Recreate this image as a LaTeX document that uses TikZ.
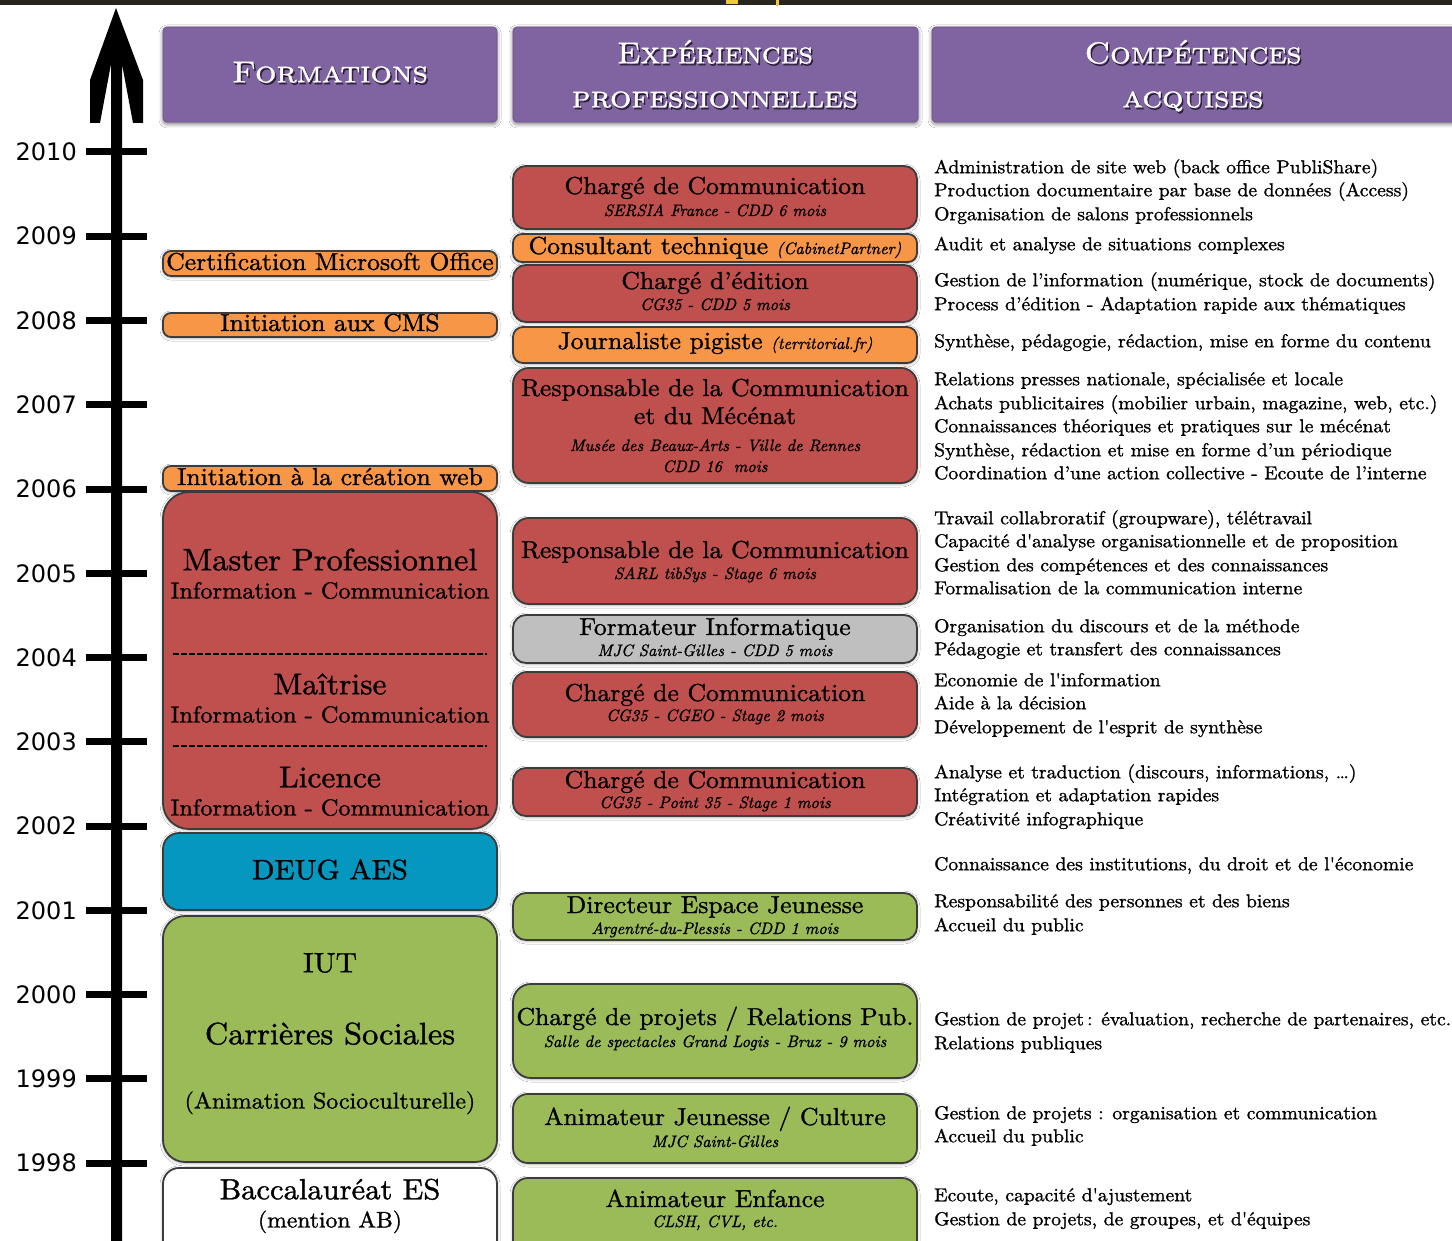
\documentclass[tikz,border=0pt]{standalone}
\usepackage{fontspec}
\usepackage{graphicx}
\setmainfont{lmroman10-regular.otf}[ItalicFont=lmroman10-italic.otf,BoldFont=lmroman10-bold.otf,SmallCapsFont=lmromancaps10-regular.otf,FakeStretch=1.05,FakeBold=1.2]
\newfontfamily\subit{lmroman10-italic.otf}[FakeBold=1.2]
\newfontfamily\yearfont{DejaVu Sans}
\usetikzlibrary{shadows,shadows.blur}
\definecolor{hdrpurple}{RGB}{128,100,162}
\definecolor{boxred}{RGB}{192,80,77}
\definecolor{boxorange}{RGB}{247,150,70}
\definecolor{boxgreen}{RGB}{155,187,89}
\definecolor{boxblue}{RGB}{6,151,192}
\definecolor{boxgray}{RGB}{191,191,191}
\definecolor{edge}{RGB}{60,60,60}
\definecolor{topband}{RGB}{40,36,30}
\definecolor{bandyellow}{RGB}{240,200,60}
\newcommand\hdrtxt[2]{\resizebox{#1pt}{\height}{\fontsize{30}{34}\selectfont #2}}
\newcommand\sq{\textquotesingle}
\newcommand\cardbox[7]{\node[card,fill=#2,rounded corners=#7pt,minimum width={#5-#3},minimum height={#6-#4}] (#1) at ({(#3+#5)/2},{(#4+#6)/2}) {};}
\begin{document}
\begin{tikzpicture}[x=1pt,y=-1pt,
 card/.style={draw=edge,line width=1.8pt,inner sep=0pt,blur shadow={shadow xshift=0pt,shadow yshift=-1pt,shadow blur radius=3pt,shadow opacity=35}},
 hdrbox/.style={fill=hdrpurple,draw=hdrpurple!85!black,line width=0.8pt,rounded corners=4pt,inner sep=0pt,blur shadow={shadow xshift=0pt,shadow yshift=-2pt,shadow blur radius=4pt,shadow opacity=55}},
 hdrw/.style={text=white,inner sep=0pt,text height=20.5pt,text depth=0pt},
 hdrs/.style={text=black,text opacity=0.6,inner sep=0pt,text height=20.5pt,text depth=0pt},
 ttl/.style={font=\fontsize{24.5}{28}\selectfont,inner sep=0pt,text height=17pt,text depth=5pt},
 sbt/.style={font=\subit\fontsize{16.5}{19}\selectfont,inner sep=0pt,text height=11.5pt,text depth=3.5pt},
 bigt/.style={font=\fontsize{30.9}{35}\selectfont,inner sep=0pt,text height=21pt,text depth=6.5pt},
 med/.style={font=\fontsize{23.2}{27}\selectfont,inner sep=0pt,text height=16pt,text depth=5pt},
 comp/.style={font=\fontsize{18.7}{22}\selectfont,anchor=west,inner sep=0pt,text height=13pt,text depth=4.5pt},
 yr/.style={font=\yearfont\fontsize{24}{28}\selectfont,anchor=east,inner sep=0pt,text height=17.5pt,text depth=0pt},
 dashsep/.style={line width=1.4pt,dash pattern=on 5.5pt off 2.5pt}
]
\useasboundingbox (0,0) rectangle (1452,1241);
\fill[white] (0,0) rectangle (1452,1241);
% top band
\fill[topband] (0,0) rectangle (1452,5);
\fill[bandyellow] (726,0) rectangle (738,4);
\fill[bandyellow] (776,0) rectangle (779,6);

% time axis
\fill (116,8) -- (143,80) -- (143,123) -- (133,123) -- (122,64) -- (122,1260) -- (111,1260) -- (111,64) -- (100,123) -- (90,123) -- (90,80) -- cycle;
\foreach \yr in {1998,...,2010}{
  \pgfmathsetmacro\yy{152+(2010-\yr)*84.25}
  \fill (86,\yy-3.5) rectangle (147,\yy+3.5);
  \node[yr] (yr\yr) at (77,\yy) {\yr};
}

% headers
\node[hdrbox,minimum width=334pt,minimum height=95pt] (hf) at (330,74.5) {};
\node[hdrbox,minimum width=405pt,minimum height=95pt] (he) at (715.5,74.5) {};
\node[hdrbox,minimum width=530pt,minimum height=95pt] (hc) at (1197,74.5) {};
\node[hdrs] (hfs) at (331.5,74) {\hdrtxt{196}{\textsc{Formations}}};
\node[hdrw] (hft) at (330,72) {\hdrtxt{196}{\textsc{Formations}}};
\node[hdrs] (he1s) at (716.5,55) {\hdrtxt{196}{\textsc{Expériences}}};
\node[hdrw] (he1) at (715,53) {\hdrtxt{196}{\textsc{Expériences}}};
\node[hdrs] (he2s) at (716.5,99) {\hdrtxt{286}{\textsc{professionnelles}}};
\node[hdrw] (he2) at (715,97) {\hdrtxt{286}{\textsc{professionnelles}}};
\node[hdrs] (hc1s) at (1194.5,55) {\hdrtxt{217}{\textsc{Compétences}}};
\node[hdrw] (hc1) at (1193,53) {\hdrtxt{217}{\textsc{Compétences}}};
\node[hdrs] (hc2s) at (1194.5,99) {\hdrtxt{141}{\textsc{acquises}}};
\node[hdrw] (hc2) at (1193,97) {\hdrtxt{141}{\textsc{acquises}}};

% formations column
\cardbox{l1}{boxorange}{163}{251}{497}{276}{8}
\cardbox{l2}{boxorange}{163}{313}{497}{337}{8}
\cardbox{l3}{boxorange}{163}{466}{497}{491}{8}
\cardbox{l4}{boxred}{163}{492}{497}{829}{26}
\cardbox{l5}{boxblue}{163}{833}{497}{910}{16}
\cardbox{l6}{boxgreen}{163}{916}{497}{1162}{22}
\cardbox{l7}{white}{163}{1168}{497}{1275}{16}
\node[ttl] (l1t) at (330,264) {Certification Microsoft Office};
\node[ttl] (l2t) at (330,325) {Initiation aux CMS};
\node[ttl] (l3t) at (330,479) {Initiation à la création web};
\node[bigt] (l4a) at (330,563) {Master Professionnel};
\node[med] (l4b) at (330,593) {Information - Communication};
\draw[dashsep] (173,654) -- (487,654);
\node[bigt,font=\fontsize{30}{34}\selectfont] (l4c) at (330,687) {Maîtrise};
\node[med] (l4d) at (330,717) {Information - Communication};
\draw[dashsep] (173,746) -- (487,746);
\node[bigt,font=\fontsize{30}{34}\selectfont] (l4e) at (330,780) {Licence};
\node[med] (l4f) at (330,810) {Information - Communication};
\node[bigt,font=\fontsize{28}{32}\selectfont] (l5t) at (330,872) {DEUG AES};
\node[bigt,font=\fontsize{28}{32}\selectfont] (l6a) at (330,965) {IUT};
\node[bigt] (l6b) at (330,1037) {Carrières Sociales};
\node[med,font=\fontsize{22.8}{26}\selectfont] (l6c) at (330,1103) {(Animation Socioculturelle)};
\node[bigt,font=\fontsize{29.1}{33}\selectfont] (l7a) at (330,1192) {Baccalauréat ES};
\node[med,font=\fontsize{22.5}{26}\selectfont] (l7b) at (330,1222) {(mention AB)};

% experiences column
\cardbox{m1}{boxred}{513}{166}{917}{229}{13}
\cardbox{m2}{boxorange}{513}{234}{917}{262}{9}
\cardbox{m3}{boxred}{513}{265}{917}{322}{13}
\cardbox{m4}{boxorange}{513}{327}{917}{363}{10}
\cardbox{m5}{boxred}{513}{368}{917}{483}{16}
\cardbox{m6}{boxred}{513}{518}{917}{604}{16}
\cardbox{m7}{boxgray}{513}{615}{917}{663}{13}
\cardbox{m8}{boxred}{513}{672}{917}{737}{14}
\cardbox{m9}{boxred}{513}{768}{917}{816}{13}
\cardbox{m10}{boxgreen}{513}{893}{917}{940}{13}
\cardbox{m11}{boxgreen}{513}{984}{917}{1078}{18}
\cardbox{m12}{boxgreen}{513}{1094}{917}{1163}{15}
\cardbox{m13}{boxgreen}{513}{1178}{917}{1275}{15}

\node[ttl] (m1a) at (715,188) {Chargé de Communication};
\node[sbt] (m1b) at (715,212) {SERSIA France - CDD 6 mois};
\node[ttl] (m2a) at (715,248) {Consultant technique {\subit\fontsize{16.5}{19}\selectfont (CabinetPartner)}};
\node[ttl] (m3a) at (715,283) {Chargé d’édition};
\node[sbt] (m3b) at (715,306) {CG35 - CDD 5 mois};
\node[ttl] (m4a) at (715,343) {Journaliste pigiste {\subit\fontsize{16.5}{19}\selectfont (territorial.fr)}};
\node[ttl] (m5a) at (715,390) {Responsable de la Communication};
\node[ttl] (m5b) at (715,418) {et du Mécénat};
\node[sbt] (m5c) at (715,447) {Musée des Beaux-Arts - Ville de Rennes};
\node[sbt] (m5d) at (715,468) {CDD 16~ mois};
\node[ttl] (m6a) at (715,552) {Responsable de la Communication};
\node[sbt] (m6b) at (715,575) {SARL tibSys - Stage 6 mois};
\node[ttl] (m7a) at (715,629) {Formateur Informatique};
\node[sbt] (m7b) at (715,652) {MJC Saint-Gilles - CDD 5 mois};
\node[ttl] (m8a) at (715,695) {Chargé de Communication};
\node[sbt] (m8b) at (715,717) {CG35 - CGEO - Stage 2 mois};
\node[ttl] (m9a) at (715,782) {Chargé de Communication};
\node[sbt] (m9b) at (715,804) {CG35 - Point 35 - Stage 1 mois};
\node[ttl] (m10a) at (715,907) {Directeur Espace Jeunesse};
\node[sbt] (m10b) at (715,930) {Argentré-du-Plessis - CDD 1 mois};
\node[ttl] (m11a) at (715,1019) {Chargé de projets / Relations Pub.};
\node[sbt] (m11b) at (715,1043) {Salle de spectacles Grand Logis - Bruz - 9 mois};
\node[ttl] (m12a) at (715,1119) {Animateur Jeunesse / Culture};
\node[sbt] (m12b) at (715,1143) {MJC Saint-Gilles};
\node[ttl] (m13a) at (715,1201) {Animateur Enfance};
\node[sbt] (m13b) at (715,1223) {CLSH, CVL, etc.};

% competences column
\node[comp] (c1) at (934,169) {Administration de site web (back office PubliShare)};
\node[comp] (c2) at (934,192) {Production documentaire par base de données (Access)};
\node[comp] (c3) at (934,216) {Organisation de salons professionnels};
\node[comp] (c4) at (934,246) {Audit et analyse de situations complexes};
\node[comp] (c5) at (934,282) {Gestion de l’information (numérique, stock de documents)};
\node[comp] (c6) at (934,306) {Process d’édition - Adaptation rapide aux thématiques};
\node[comp] (c7) at (934,343) {Synthèse, pédagogie, rédaction, mise en forme du contenu};
\node[comp] (c8) at (934,381) {Relations presses nationale, spécialisée et locale};
\node[comp] (c9) at (934,405) {Achats publicitaires (mobilier urbain, magazine, web, etc.)};
\node[comp] (c10) at (934,428) {Connaissances théoriques et pratiques sur le mécénat};
\node[comp] (c11) at (934,452) {Synthèse, rédaction et mise en forme d’un périodique};
\node[comp] (c12) at (934,475) {Coordination d’une action collective - Ecoute de l’interne};
\node[comp] (c13) at (934,520) {Travail collabroratif (groupware), télétravail};
\node[comp] (c14) at (934,543) {Capacité d\sq{}analyse organisationnelle et de proposition};
\node[comp] (c15) at (934,567) {Gestion des compétences et des connaissances};
\node[comp] (c16) at (934,590) {Formalisation de la communication interne};
\node[comp] (c17) at (934,628) {Organisation du discours et de la méthode};
\node[comp] (c18) at (934,651) {Pédagogie et transfert des connaissances};
\node[comp] (c19) at (934,682) {Economie de l\sq{}information};
\node[comp] (c20) at (934,705) {Aide à la décision};
\node[comp] (c21) at (934,729) {Développement de l\sq{}esprit de synthèse};
\node[comp] (c22) at (934,774) {Analyse et traduction (discours, informations, \ldots)};
\node[comp] (c23) at (934,797) {Intégration et adaptation rapides};
\node[comp] (c24) at (934,821) {Créativité infographique};
\node[comp] (c25) at (934,866) {Connaissance des institutions, du droit et de l\sq{}économie};
\node[comp] (c26) at (934,903) {Responsabilité des personnes et des biens};
\node[comp] (c27) at (934,927) {Accueil du public};
\node[comp] (c28) at (934,1021) {Gestion de projet\,: évaluation, recherche de partenaires, etc.};
\node[comp] (c29) at (934,1045) {Relations publiques};
\node[comp] (c30) at (934,1115) {Gestion de projets : organisation et communication};
\node[comp] (c31) at (934,1138) {Accueil du public};
\node[comp] (c32) at (934,1197) {Ecoute, capacité d\sq{}ajustement};
\node[comp] (c33) at (934,1221) {Gestion de projets, de groupes, et d\sq{}équipes};
\end{tikzpicture}
\end{document}
